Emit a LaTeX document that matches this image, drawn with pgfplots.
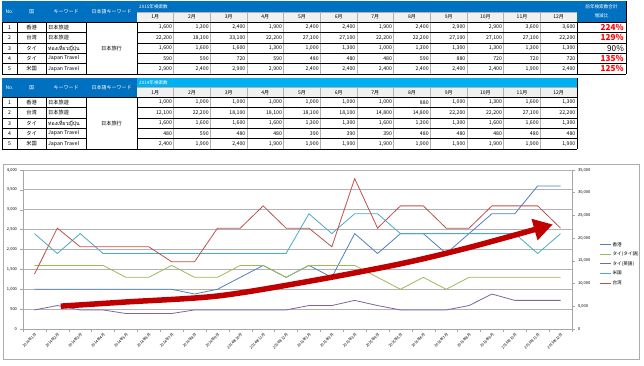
\documentclass[border=0pt]{standalone}
\usepackage{pgfplots}
\usepackage{pgfplotstable}
\pgfplotsset{compat=1.18}
\usepackage{fontspec}
\setmainfont{Noto Sans CJK JP}
\newfontfamily\thaifont[Script=Thai]{Loma}
\usetikzlibrary{arrows.meta}
\definecolor{hdr}{HTML}{0070C0}
\definecolor{hdrlight}{HTML}{00B0F0}
\definecolor{cHK}{HTML}{4F81BD}
\definecolor{cTW}{HTML}{C0504D}
\definecolor{cTT}{HTML}{9BBB59}
\definecolor{cTE}{HTML}{8064A2}
\definecolor{cUS}{HTML}{4BACC6}
\definecolor{arr}{HTML}{C00000}
\newcommand\cellfont{\fontsize{5.2}{6}\selectfont}
\newcommand\hfont{\fontsize{5}{6}\selectfont}
\newcommand\tfont{\fontsize{4.6}{5}\selectfont}

\pgfplotstableread{
i hk thth then us tw
0 1000 1600 480 2400 12100
1 1000 1600 590 1900 22200
2 1000 1600 480 2400 18100
3 1000 1600 480 1900 18100
4 1000 1300 390 1900 18100
5 1000 1300 390 1900 18100
6 1000 1600 390 1900 14800
7 880 1300 480 1900 14800
8 1000 1300 480 1900 22200
9 1300 1600 480 1900 22200
10 1600 1600 480 1900 27100
11 1300 1300 480 1900 22200
12 1600 1600 590 2900 22200
13 1300 1600 590 2400 18100
14 2400 1600 720 2900 33100
15 1900 1300 590 2900 22200
16 2400 1000 480 2400 27100
17 2400 1300 480 2400 27100
18 1900 1000 480 2400 22200
19 2400 1300 590 2400 22200
20 2900 1300 880 2400 27100
21 2900 1300 720 2400 27100
22 3600 1300 720 1900 27100
23 3600 1300 720 2400 22200
}\datatable

\newcommand{\drawtable}[5]{%
 \fill[hdr] (2,#1) rectangle (137,#3);
 \fill[#4] (137,#1) rectangle (577,#2);
 \fill[black!6] (137,#2) rectangle (577,#3);
 \node[text=white,font=\hfont] at (9.5,{(#1+#3)/2}) {No.};
 \node[text=white,font=\hfont] at (31.5,{(#1+#3)/2}) {国};
 \node[text=white,font=\hfont] at (66,{(#1+#3)/2}) {キーワード};
 \node[text=white,font=\hfont] at (111.5,{(#1+#3)/2}) {日本語キーワード};
 \node[text=white,font=\tfont,anchor=west,inner sep=0] at (139,{(#1+#2)/2}) {#5};
 \foreach \k in {1,...,12} {
   \node[font=\hfont] at ({137+36.667*(\k-0.5)},{(#2+#3)/2}) {\k 月};
   \draw[gray!60,line width=0.4pt] ({137+36.667*\k},#2) -- ({137+36.667*\k},{#3+51.7});
 }
 \foreach \n/\c/\w [count=\r] in {1/香港/日本旅遊,2/台湾/日本旅遊,3/タイ/{\thaifont ท่องเที่ยวญี่ปุ่น},4/タイ/Japan Travel,5/米国/Japan Travel} {
   \node[font=\cellfont] at (9.5,{#3+10.34*(\r-0.5)}) {\n};
   \node[font=\cellfont] at (31.5,{#3+10.34*(\r-0.5)}) {\c};
   \node[font=\cellfont,anchor=west,inner sep=0] at (48,{#3+10.34*(\r-0.5)}) {\w};
   \draw[black,line width=0.5pt] (2,{#3+10.34*\r}) -- (86,{#3+10.34*\r});
   \draw[black,line width=0.5pt] (137,{#3+10.34*\r}) -- (577,{#3+10.34*\r});
 }
 \node[font=\cellfont] at (111.5,{#3+25.85}) {日本旅行};
 \draw[black,line width=0.5pt] (2,#3) -- (577,#3);
 \draw[gray!60,line width=0.4pt] (137,#2) -- (577,#2);
 \foreach \xx in {2,17,46,86,137} {\draw[black,line width=0.5pt] (\xx,#3) -- (\xx,{#3+51.7});}
 \draw[black,line width=0.5pt] (577,#1) -- (577,{#3+51.7});
 \draw[black,line width=1pt] (2,{#3+51.7}) -- (577,{#3+51.7});
}

\begin{document}
\begin{tikzpicture}
\begin{scope}[x=1pt,y=-1pt]
\fill[white] (0,0) rectangle (644,365);
\drawtable{1}{11.7}{22.3}{hdr}{2015年検索数}
\drawtable{78.3}{87.3}{97.3}{hdrlight}{2014年検索数}
% 2015 values
\foreach \row [count=\r] in {{1600,1300,2400,1900,2400,2400,1900,2400,2900,2900,3600,3600},{22200,18100,33100,22200,27100,27100,22200,22200,27100,27100,27100,22200},{1600,1600,1600,1300,1000,1300,1000,1300,1300,1300,1300,1300},{590,590,720,590,480,480,480,590,880,720,720,720},{2900,2400,2900,2900,2400,2400,2400,2400,2400,2400,1900,2400}} {
  \foreach \v [count=\k] in \row {
    \node[font=\cellfont,anchor=east,inner sep=0] at ({137+36.667*\k-1.5},{22.3+10.34*(\r-0.5)}) {\pgfmathprintnumber[assume math mode=true]{\v}};
  }
}
% 2014 values
\foreach \row [count=\r] in {{1000,1000,1000,1000,1000,1000,1000,880,1000,1300,1600,1300},{12100,22200,18100,18100,18100,18100,14800,14800,22200,22200,27100,22200},{1600,1600,1600,1600,1300,1300,1600,1300,1300,1600,1600,1300},{480,590,480,480,390,390,390,480,480,480,480,480},{2400,1900,2400,1900,1900,1900,1900,1900,1900,1900,1900,1900}} {
  \foreach \v [count=\k] in \row {
    \node[font=\cellfont,anchor=east,inner sep=0] at ({137+36.667*\k-1.5},{97.3+10.34*(\r-0.5)}) {\pgfmathprintnumber[assume math mode=true]{\v}};
  }
}
% ratio column
\fill[hdr] (577,1) rectangle (626,22.3);
\node[text=white,font=\tfont] at (601.5,7) {前年検索数合計};
\node[text=white,font=\tfont] at (601.5,15.5) {増減比};
\foreach \p/\col/\wt [count=\r] in {224/red/\bfseries,129/red/\bfseries,90/black/\mdseries,135/red/\bfseries,125/red/\bfseries} {
  \node[font=\fontsize{8.2}{9}\selectfont\wt,text=\col,anchor=east,inner sep=0] at (624,{22.3+10.34*(\r-0.5)}) {\p\%};
  \draw[black,line width=0.5pt] (577,{22.3+10.34*\r}) -- (626,{22.3+10.34*\r});
}
\draw[black,line width=0.5pt] (577,22.3) -- (626,22.3) (626,1) -- (626,74);
% chart frame
\draw[gray!65,line width=0.8pt] (3,164) rectangle (639,359);
\end{scope}

\begin{axis}[
  at={(23pt,-329pt)}, anchor=south west,
  scale only axis, width=549pt, height=159pt,
  xmin=-0.5, xmax=23.5, ymin=0, ymax=4000,
  axis x line*=bottom, axis y line*=left,
  axis line style={gray!70, line width=0.6pt},
  ytick={0,500,...,4000},
  xtick={0,...,23},
  xticklabels={2014年1月,2014年2月,2014年3月,2014年4月,2014年5月,2014年6月,2014年7月,2014年8月,2014年9月,2014年10月,2014年11月,2014年12月,2015年1月,2015年2月,2015年3月,2015年4月,2015年5月,2015年6月,2015年7月,2015年8月,2015年9月,2015年10月,2015年11月,2015年12月},
  x tick label style={rotate=45, anchor=north east, font=\fontsize{3.7}{4}\selectfont, inner sep=0.8pt},
  y tick label style={font=\fontsize{4}{4}\selectfont},
  /pgf/number format/assume math mode=true,
  major x tick style={draw=none},
  minor xtick={-0.5,0.5,...,23.5},
  minor x tick style={gray!70, line width=0.5pt},
  major y tick style={gray!70, line width=0.5pt},
  tick align=outside, major tick length=2.5pt, minor tick length=2.5pt,
  ymajorgrids, major grid style={gray!60, line width=0.9pt},
  scaled y ticks=false,
]
\addplot[cHK, line width=0.8pt] table[x=i,y=hk] {\datatable};
\addplot[cTT, line width=0.8pt] table[x=i,y=thth] {\datatable};
\addplot[cTE, line width=0.8pt] table[x=i,y=then] {\datatable};
\addplot[cUS, line width=0.8pt] table[x=i,y=us] {\datatable};
\end{axis}

\begin{axis}[
  at={(23pt,-329pt)}, anchor=south west,
  scale only axis, width=549pt, height=159pt,
  xmin=-0.5, xmax=23.5, ymin=0, ymax=35000,
  axis x line=none, axis y line*=right,
  axis line style={gray!70, line width=0.6pt},
  ytick={0,5000,...,35000},
  y tick label style={font=\fontsize{4}{4}\selectfont},
  /pgf/number format/assume math mode=true,
  major y tick style={gray!70, line width=0.5pt},
  tick align=outside, major tick length=2.5pt,
  scaled y ticks=false,
  legend style={draw=none, fill=none, at={(1.045,0.565)}, anchor=north west,
    font=\fontsize{4.6}{5}\selectfont, row sep=2.6pt, nodes={inner sep=0.8pt}},
  legend cell align=left,
  legend image code/.code={\draw[#1] (0pt,0pt) -- (11pt,0pt);},
]
\addlegendimage{cHK, line width=0.9pt}\addlegendentry{香港}
\addlegendimage{cTT, line width=0.9pt}\addlegendentry{タイ(タイ語)}
\addlegendimage{cTE, line width=0.9pt}\addlegendentry{タイ(英語)}
\addlegendimage{cUS, line width=0.9pt}\addlegendentry{米国}
\addplot[cTW, line width=0.8pt] table[x=i,y=tw] {\datatable};
\addlegendentry{台湾}
\addplot[arr, line width=5.5pt, smooth, forget plot, -{Triangle[length=19pt,width=21pt]}] coordinates {(1.15,5031) (4,5950) (8,7263) (12,10500) (16,14350) (19,17938) (22.66,23013)};
\end{axis}
\end{tikzpicture}
\end{document}
